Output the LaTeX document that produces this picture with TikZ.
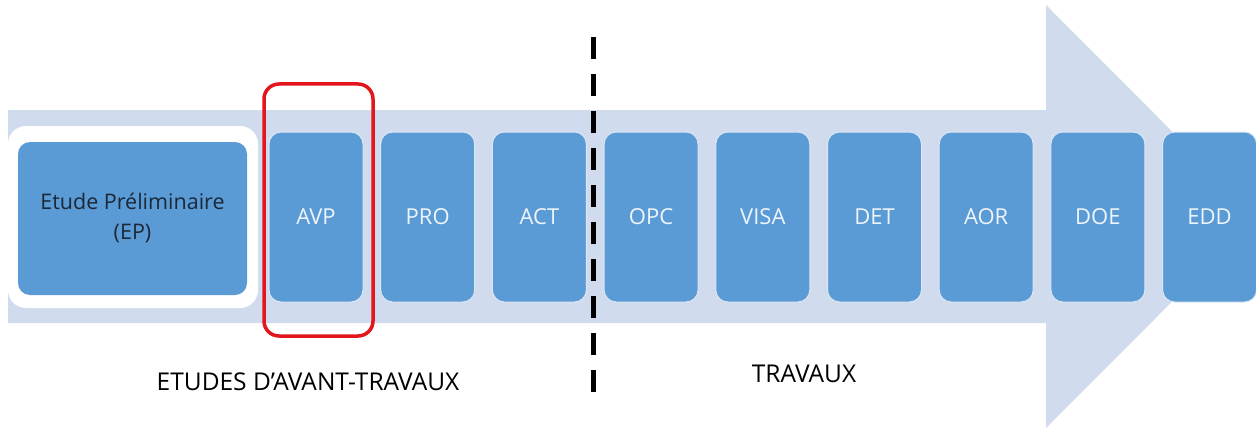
\documentclass[tikz,border=0pt]{standalone}
\usepackage{fontspec}
\setmainfont{Open Sans}
\definecolor{arrowbg}{HTML}{D0DCED}
\definecolor{boxblue}{HTML}{5B9BD5}
\definecolor{boxedge}{HTML}{DCE7F4}
\definecolor{boxtext}{HTML}{EEF4FB}
\definecolor{eptext}{HTML}{1C2838}
\definecolor{redframe}{HTML}{E3161E}
\begin{document}
\begin{tikzpicture}[x=1pt,y=-1pt,
  stagebox/.style={rounded corners=12pt, fill=boxblue, draw=boxedge, line width=1pt},
  stagetext/.style={text=boxtext, font=\fontsize{22}{26}\selectfont},
  bottomlabel/.style={font=\fontsize{24.5}{29}\selectfont, text=black, anchor=base}]
\useasboundingbox (0,0) rectangle (1256,428);
% big arrow
\fill[arrowbg] (8,110) -- (1046,110) -- (1046,5) -- (1257,216.5) -- (1046,428) -- (1046,323) -- (8,323) -- cycle;
% EP block
\fill[white, rounded corners=18pt] (8,126) rectangle (258,308);
\fill[boxblue, rounded corners=12pt] (18,142) rectangle (247,295);
\node[align=center, text=eptext, font=\fontsize{21.5}{30}\selectfont] (ep) at (132.5,218) {Etude Préliminaire\\(EP)};
% stage boxes
\foreach \lab [count=\i from 0] in {AVP,PRO,ACT,OPC,VISA,DET,AOR,DOE,EDD} {
  \pgfmathsetmacro{\xl}{269+111.7*\i}
  \draw[stagebox] (\xl,132) rectangle ++(94,170);
  \node[stagetext] (s\i) at (\xl+47,217) {\lab};
}
% red frame around AVP
\draw[redframe, line width=3.5pt, rounded corners=15pt] (264,84) rectangle (373,336);
% dashed separator
\coordinate (dtop) at (593,37);
\coordinate (dbot) at (593,392);
\draw[line width=5pt, dash pattern=on 22pt off 15pt] (dtop) -- (dbot);
% bottom labels
\node[bottomlabel] (lav) at (308,390) {ETUDES D’AVANT-TRAVAUX};
\node[bottomlabel] (ltr) at (804,382) {TRAVAUX};
\end{tikzpicture}
\end{document}
